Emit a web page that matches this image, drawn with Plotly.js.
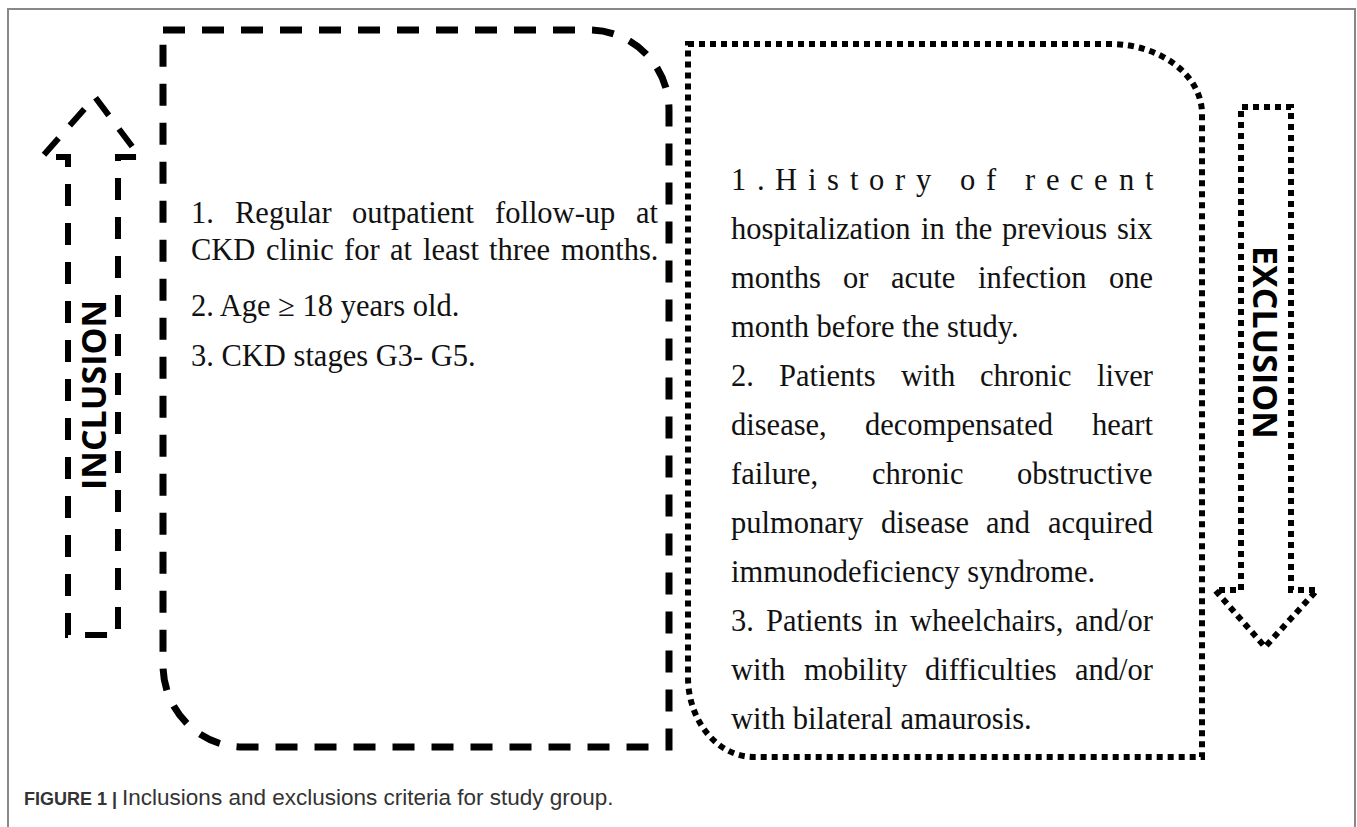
<!DOCTYPE html>
<html><head><meta charset="utf-8">
<script src="https://cdn.plot.ly/plotly-3.0.1.min.js"></script>
<style>html,body{margin:0;padding:0;background:#fff;overflow:hidden}</style>
</head><body><div id="chart" style="width:1357px;height:827px"></div>
<script>
// ---- content ----
const inclusionLines = [
  "1. Regular outpatient follow-up at",
  "CKD clinic for at least three months.",
  "2. Age \u2265 18 years old.",
  "3. CKD stages G3- G5."
];
const inclusionJustify = ["words", "words", "none", "none"];
const exclusionLines = [
  "1.History of recent",
  "hospitalization in the previous six",
  "months or acute infection one",
  "month before the study.",
  "2. Patients with chronic liver",
  "disease, decompensated heart",
  "failure, chronic obstructive",
  "pulmonary disease and acquired",
  "immunodeficiency syndrome.",
  "3. Patients in wheelchairs, and/or",
  "with mobility difficulties and/or",
  "with bilateral amaurosis."
];
const exclusionJustify = ["chars", "words", "words", "none", "words", "words", "words", "words", "none", "words", "words", "none"];
const sideLabels = ["INCLUSION", "EXCLUSION"];
const captionBold = "FIGURE 1 |";
const captionText = "Inclusions and exclusions criteria for study group.";

// ---- layout geometry (pixels) ----
const W = 1357, H = 827;
const serif = "Liberation Serif";
const inclSize = 30.5, exclSize = 30.5;
const inclY = [213, 250, 306, 356];
const inclX = [190, 657];
const exclY0 = 180, exclStep = 49;
const exclX = [730, 1152];

const cv = document.createElement('canvas').getContext('2d');
function measure(t, size) { cv.font = size + 'px "' + serif + '"'; return cv.measureText(t).width; }

const annotations = [];
function addText(t, x, y, size) {
  annotations.push({text: t, x: x, y: y, xref: 'x', yref: 'y', xanchor: 'left', yanchor: 'middle',
    showarrow: false, borderpad: 0, font: {family: serif, size: size, color: '#111'}});
}
function spread(items, x0, x1, y, size, skipBlank) {
  const widths = items.map(c => measure(c === ' ' ? '\u00a0' : c, size));
  const total = widths.reduce((a, b) => a + b, 0);
  const gap = (x1 - x0 - total) / (items.length - 1);
  let x = x0;
  items.forEach((c, i) => { if (!(skipBlank && c === ' ')) addText(c, x, y, size); x += widths[i] + gap; });
}
function placeLine(text, mode, x0, x1, y, size) {
  if (mode === 'words') spread(text.split(' '), x0, x1, y, size, false);
  else if (mode === 'chars') spread(text.split(''), x0, x1, y, size, true);
  else addText(text, x0, y, size);
}
inclusionLines.forEach((t, i) => placeLine(t, inclusionJustify[i], inclX[0], inclX[1], inclY[i], inclSize));
exclusionLines.forEach((t, i) => placeLine(t, exclusionJustify[i], exclX[0], exclX[1], exclY0 + i * exclStep, exclSize));

annotations.push({text: sideLabels[0], x: 93, y: 395, xref: 'x', yref: 'y', textangle: -90, showarrow: false,
  font: {family: 'Open Sans', size: 34, color: '#000', weight: 'bold'}});
annotations.push({text: sideLabels[1], x: 1266, y: 342, xref: 'x', yref: 'y', textangle: 90, showarrow: false,
  font: {family: 'Open Sans', size: 34, color: '#000', weight: 'bold'}});
annotations.push({text: '<b>' + captionBold + '</b> <span style="font-size:22.5px">' + captionText + '</span>', x: 22, y: 797, xref: 'x', yref: 'y',
  xanchor: 'left', yanchor: 'middle', showarrow: false, font: {family: 'Liberation Sans', size: 18, color: '#333'}});

const k = 0.5523;
function rr(x0, y0, x1, y1, rTR, rBL) {
  const [trx, try_] = rTR, [blx, bly] = rBL;
  return `M${x0},${y0} L${x1 - trx},${y0} C${x1 - trx + k * trx},${y0} ${x1},${y0 + try_ - k * try_} ${x1},${y0 + try_} ` +
    `L${x1},${y1} L${x0 + blx},${y1} C${x0 + blx - k * blx},${y1} ${x0},${y1 - bly + k * bly} ${x0},${y1 - bly} Z`;
}
const dashed = {color: '#000', width: 7, dash: '22px,17px'};
const dotted = {color: '#000', width: 6, dash: '6px,5px'};
const shapes = [
  {type: 'path', path: `M8,${H} L8,9 L1355,9 L1355,${H}`, line: {color: '#888', width: 2}},
  {type: 'path', path: rr(163, 30, 669, 747, [80, 80], [80, 82]), line: dashed},
  {type: 'path', path: rr(688, 44, 1202, 757, [92, 70], [66, 80]), line: dotted},
  {type: 'path', path: 'M68,635 L68,157 L42,157 L95,97 L140,157 L118,157 L118,635 Z', line: {color: '#000', width: 6, dash: '22px,17px'}},
  {type: 'path', path: 'M1241,590 L1241,107 L1291,107 L1291,590 L1317,590 L1265,647 L1215,590 Z', line: dotted}
];
shapes.forEach(s => { s.xref = 'x'; s.yref = 'y'; });

Plotly.newPlot('chart', [], {
  width: W, height: H, margin: {l: 0, r: 0, t: 0, b: 0},
  paper_bgcolor: '#fff', plot_bgcolor: '#fff', showlegend: false,
  xaxis: {range: [0, W], visible: false, fixedrange: true},
  yaxis: {range: [H, 0], visible: false, fixedrange: true},
  shapes: shapes, annotations: annotations
}, {staticPlot: true, displayModeBar: false});
</script></body></html>
